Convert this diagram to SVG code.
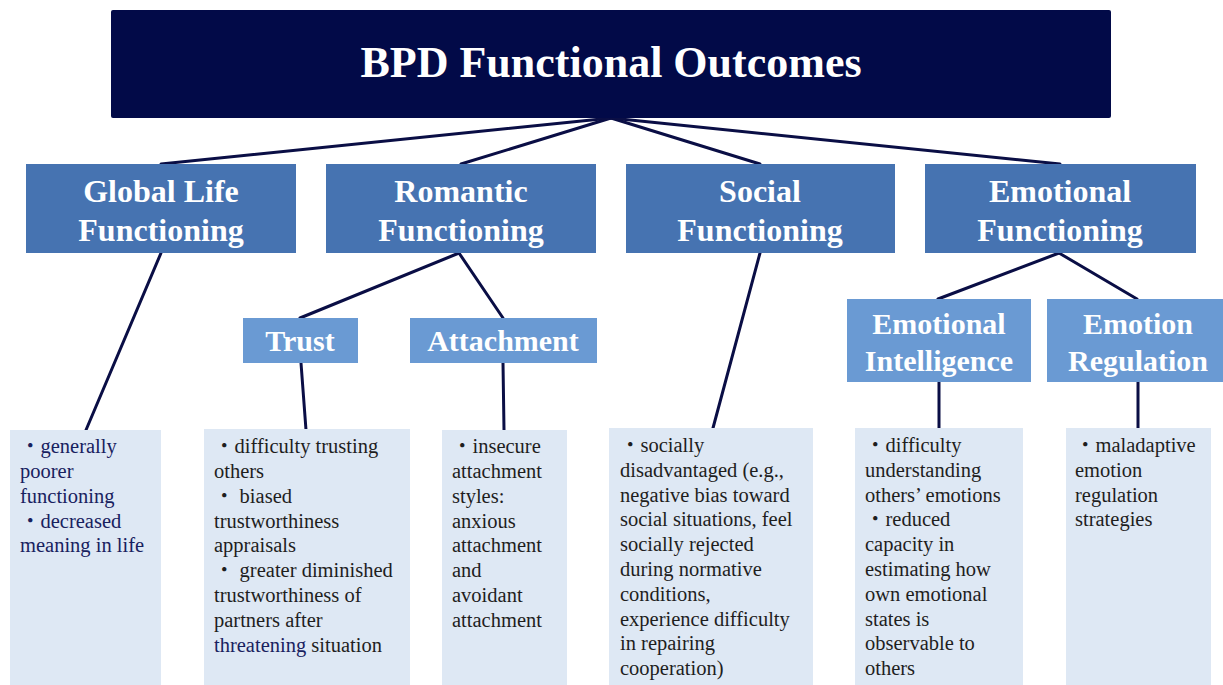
<svg xmlns="http://www.w3.org/2000/svg" width="1223" height="685" viewBox="0 0 1223 685">
  <style>
    .root { fill: #020A48; }
    .cat { fill: #4673B1; }
    .sub { fill: #6A9AD3; }
    .detail { fill: #DEE8F4; }
    .edge { stroke: #0A0E45; stroke-width: 3; fill: none; stroke-linecap: round; }
    .title { font-family: "Liberation Serif", "Times New Roman", serif; font-weight: bold; fill: #FFFFFF; text-anchor: middle; }
    .h0 { font-size: 44px; }
    .h1 { font-size: 32px; }
    .h2 { font-size: 30px; }
    .body { font-family: "Liberation Serif", "Noto Sans CJK JP", serif; font-size: 20.5px; fill: #1E1E1E; }
    .navy { fill: #18215F; }
  </style>

  <!-- connectors -->
  <g id="connectors">
    <line class="edge" x1="611" y1="118" x2="161" y2="164"/>
    <line class="edge" x1="611" y1="118" x2="461" y2="164"/>
    <line class="edge" x1="611" y1="118" x2="760" y2="164"/>
    <line class="edge" x1="611" y1="118" x2="1060" y2="164"/>
    <line class="edge" x1="161" y1="253" x2="86" y2="430"/>
    <line class="edge" x1="459" y1="253" x2="300" y2="318"/>
    <line class="edge" x1="459" y1="253" x2="503" y2="318"/>
    <line class="edge" x1="301" y1="363" x2="306" y2="430"/>
    <line class="edge" x1="503" y1="363" x2="504" y2="430"/>
    <line class="edge" x1="760" y1="253" x2="713" y2="428"/>
    <line class="edge" x1="1059" y1="253" x2="938" y2="299"/>
    <line class="edge" x1="1059" y1="253" x2="1137" y2="299"/>
    <line class="edge" x1="939" y1="382" x2="939" y2="428"/>
    <line class="edge" x1="1138" y1="382" x2="1138" y2="428"/>
  </g>

  <!-- root -->
  <g id="root">
    <rect class="root" x="111" y="10" width="1000" height="108" rx="2"/>
    <text class="title h0" x="611" y="77">BPD Functional Outcomes</text>
  </g>

  <!-- functional domains -->
  <g id="global-life">
    <rect class="cat" x="26" y="164" width="270" height="89"/>
    <text class="title h1" x="161" y="202">Global Life</text>
    <text class="title h1" x="161" y="241">Functioning</text>
  </g>
  <g id="romantic">
    <rect class="cat" x="326" y="164" width="270" height="89"/>
    <text class="title h1" x="461" y="202">Romantic</text>
    <text class="title h1" x="461" y="241">Functioning</text>
  </g>
  <g id="social">
    <rect class="cat" x="626" y="164" width="269" height="89"/>
    <text class="title h1" x="760" y="202">Social</text>
    <text class="title h1" x="760" y="241">Functioning</text>
  </g>
  <g id="emotional">
    <rect class="cat" x="925" y="164" width="271" height="89"/>
    <text class="title h1" x="1060" y="202">Emotional</text>
    <text class="title h1" x="1060" y="241">Functioning</text>
  </g>

  <!-- sub-domains -->
  <g id="trust">
    <rect class="sub" x="243" y="318" width="115" height="45"/>
    <text class="title h2" x="300" y="351">Trust</text>
  </g>
  <g id="attachment">
    <rect class="sub" x="410" y="318" width="187" height="45"/>
    <text class="title h2" x="503" y="351">Attachment</text>
  </g>
  <g id="emotional-intelligence">
    <rect class="sub" x="847" y="299" width="184" height="83"/>
    <text class="title h2" x="939" y="334">Emotional</text>
    <text class="title h2" x="939" y="371">Intelligence</text>
  </g>
  <g id="emotion-regulation">
    <rect class="sub" x="1047" y="299" width="182" height="83"/>
    <text class="title h2" x="1138" y="334">Emotion</text>
    <text class="title h2" x="1138" y="371">Regulation</text>
  </g>

  <!-- outcome details -->
  <g id="detail-global">
    <rect class="detail" x="10" y="430" width="151" height="255"/>
    <text class="body navy">
      <tspan x="20" y="453">・generally</tspan>
      <tspan x="20" y="478">poorer</tspan>
      <tspan x="20" y="503">functioning</tspan>
      <tspan x="20" y="528">・decreased</tspan>
      <tspan x="20" y="552">meaning in life</tspan>
    </text>
  </g>
  <g id="detail-trust">
    <rect class="detail" x="204" y="429" width="206" height="256"/>
    <text class="body">
      <tspan x="214" y="453">・difficulty trusting</tspan>
      <tspan x="214" y="478">others</tspan>
      <tspan x="214" y="503">・ biased</tspan>
      <tspan x="214" y="528">trustworthiness</tspan>
      <tspan x="214" y="552">appraisals</tspan>
      <tspan x="214" y="577">・ greater diminished</tspan>
      <tspan x="214" y="602">trustworthiness of</tspan>
      <tspan x="214" y="627">partners after</tspan>
      <tspan x="214" y="652"><tspan class="navy">threatening</tspan> situation</tspan>
    </text>
  </g>
  <g id="detail-attachment">
    <rect class="detail" x="442" y="430" width="125" height="255"/>
    <text class="body">
      <tspan x="452" y="453">・insecure</tspan>
      <tspan x="452" y="478">attachment</tspan>
      <tspan x="452" y="503">styles:</tspan>
      <tspan x="452" y="528">anxious</tspan>
      <tspan x="452" y="552">attachment</tspan>
      <tspan x="452" y="577">and</tspan>
      <tspan x="452" y="602">avoidant</tspan>
      <tspan x="452" y="627">attachment</tspan>
    </text>
  </g>
  <g id="detail-social">
    <rect class="detail" x="609" y="428" width="204" height="257"/>
    <text class="body">
      <tspan x="620" y="452">・socially</tspan>
      <tspan x="620" y="477">disadvantaged (e.g.,</tspan>
      <tspan x="620" y="502">negative bias toward</tspan>
      <tspan x="620" y="526">social situations, feel</tspan>
      <tspan x="620" y="551">socially rejected</tspan>
      <tspan x="620" y="576">during normative</tspan>
      <tspan x="620" y="601">conditions,</tspan>
      <tspan x="620" y="626">experience difficulty</tspan>
      <tspan x="620" y="650">in repairing</tspan>
      <tspan x="620" y="675">cooperation)</tspan>
    </text>
  </g>
  <g id="detail-intelligence">
    <rect class="detail" x="855" y="428" width="168" height="257"/>
    <text class="body">
      <tspan x="865" y="452">・difficulty</tspan>
      <tspan x="865" y="477">understanding</tspan>
      <tspan x="865" y="502">others’ emotions</tspan>
      <tspan x="865" y="526">・reduced</tspan>
      <tspan x="865" y="551">capacity in</tspan>
      <tspan x="865" y="576">estimating how</tspan>
      <tspan x="865" y="601">own emotional</tspan>
      <tspan x="865" y="626">states is</tspan>
      <tspan x="865" y="650">observable to</tspan>
      <tspan x="865" y="675">others</tspan>
    </text>
  </g>
  <g id="detail-regulation">
    <rect class="detail" x="1066" y="428" width="145" height="257"/>
    <text class="body">
      <tspan x="1075" y="452">・maladaptive</tspan>
      <tspan x="1075" y="477">emotion</tspan>
      <tspan x="1075" y="502">regulation</tspan>
      <tspan x="1075" y="526">strategies</tspan>
    </text>
  </g>
</svg>
